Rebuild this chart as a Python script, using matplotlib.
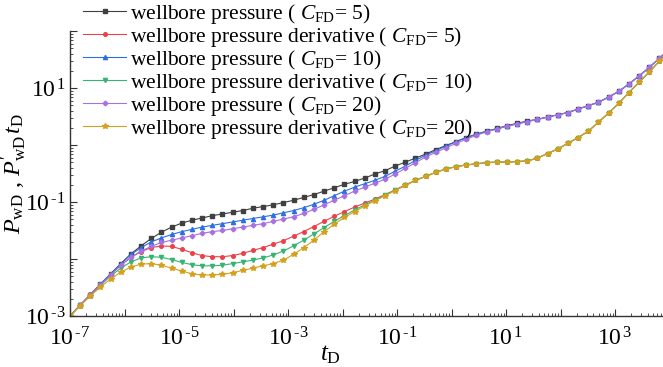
import matplotlib
matplotlib.use("Agg")
import matplotlib.pyplot as plt
import numpy as np
from matplotlib.ticker import LogLocator, FuncFormatter, NullFormatter

plt.rcParams['font.family'] = ['Liberation Serif', 'DejaVu Serif']
plt.rcParams['mathtext.fontset'] = 'custom'
plt.rcParams['mathtext.rm'] = 'Liberation Serif'
plt.rcParams['mathtext.it'] = 'Liberation Serif:italic'
plt.rcParams['mathtext.bf'] = 'Liberation Serif:bold'

# dimensionless time: markers are equally spaced in log, 60 points over 1e-7 .. 1e4
tD = np.logspace(-7, 4, 60)

# log10 of the curves at each marker
p_cfd5 = [-3.00, -2.81, -2.63, -2.44, -2.26, -2.08, -1.91, -1.77, -1.64, -1.53,
          -1.44, -1.37, -1.32, -1.28, -1.24, -1.21, -1.18, -1.15, -1.11, -1.08,
          -1.05, -1.01, -0.97, -0.92, -0.87, -0.81, -0.75, -0.69, -0.64, -0.58,
          -0.51, -0.45, -0.37, -0.30, -0.23, -0.16, -0.08, -0.01, 0.06, 0.13,
          0.19, 0.24, 0.29, 0.34, 0.38, 0.42, 0.45, 0.49, 0.53, 0.57,
          0.63, 0.69, 0.75, 0.84, 0.94, 1.07, 1.21, 1.36, 1.52, 1.68]
dp_cfd5 = [-3.00, -2.81, -2.62, -2.44, -2.27, -2.11, -1.97, -1.87, -1.80, -1.77,
           -1.78, -1.83, -1.89, -1.94, -1.96, -1.96, -1.94, -1.90, -1.85, -1.80,
           -1.74, -1.68, -1.60, -1.52, -1.43, -1.34, -1.25, -1.17, -1.09, -1.02,
           -0.95, -0.87, -0.79, -0.70, -0.62, -0.55, -0.48, -0.42, -0.38, -0.35,
           -0.33, -0.31, -0.30, -0.30, -0.29, -0.28, -0.23, -0.15, -0.07, 0.03,
           0.13, 0.24, 0.40, 0.56, 0.73, 0.92, 1.10, 1.28, 1.47, 1.65]
p_cfd10 = [-3.00, -2.81, -2.63, -2.44, -2.26, -2.09, -1.92, -1.80, -1.70, -1.63,
           -1.57, -1.52, -1.48, -1.44, -1.41, -1.38, -1.35, -1.32, -1.29, -1.26,
           -1.23, -1.19, -1.15, -1.10, -1.04, -0.97, -0.89, -0.81, -0.74, -0.68,
           -0.62, -0.55, -0.46, -0.37, -0.27, -0.18, -0.10, -0.02, 0.06, 0.13,
           0.19, 0.24, 0.28, 0.33, 0.37, 0.41, 0.45, 0.49, 0.53, 0.57,
           0.63, 0.69, 0.75, 0.84, 0.94, 1.07, 1.21, 1.36, 1.52, 1.68]
dp_cfd10 = [-3.00, -2.81, -2.63, -2.46, -2.30, -2.16, -2.05, -1.98, -1.96, -1.97,
            -2.01, -2.06, -2.10, -2.12, -2.12, -2.11, -2.08, -2.05, -2.02, -1.98,
            -1.93, -1.86, -1.77, -1.67, -1.56, -1.45, -1.34, -1.24, -1.14, -1.05,
            -0.97, -0.88, -0.79, -0.71, -0.62, -0.55, -0.48, -0.42, -0.38, -0.35,
            -0.33, -0.31, -0.30, -0.30, -0.29, -0.28, -0.23, -0.15, -0.07, 0.03,
            0.13, 0.24, 0.40, 0.56, 0.73, 0.92, 1.10, 1.28, 1.47, 1.65]
p_cfd20 = [-3.00, -2.81, -2.63, -2.45, -2.28, -2.11, -1.97, -1.86, -1.78, -1.71,
           -1.67, -1.63, -1.59, -1.55, -1.52, -1.50, -1.47, -1.44, -1.41, -1.38,
           -1.34, -1.30, -1.26, -1.20, -1.13, -1.05, -0.97, -0.89, -0.81, -0.74,
           -0.67, -0.60, -0.51, -0.41, -0.31, -0.21, -0.13, -0.05, 0.03, 0.10,
           0.17, 0.23, 0.28, 0.33, 0.37, 0.41, 0.45, 0.49, 0.53, 0.57,
           0.63, 0.69, 0.75, 0.84, 0.94, 1.07, 1.21, 1.36, 1.52, 1.68]
dp_cfd20 = [-3.00, -2.82, -2.65, -2.49, -2.35, -2.23, -2.14, -2.09, -2.08, -2.11,
            -2.16, -2.21, -2.26, -2.28, -2.28, -2.27, -2.24, -2.20, -2.16, -2.12,
            -2.08, -2.02, -1.92, -1.80, -1.67, -1.52, -1.39, -1.27, -1.17, -1.07,
            -0.98, -0.89, -0.80, -0.71, -0.62, -0.55, -0.48, -0.42, -0.38, -0.35,
            -0.33, -0.31, -0.30, -0.30, -0.29, -0.28, -0.23, -0.15, -0.07, 0.03,
            0.13, 0.24, 0.40, 0.56, 0.73, 0.92, 1.10, 1.28, 1.47, 1.65]

labels = [r"wellbore pressure ( $C_{\mathrm{FD}}$= 5)",
          r"wellbore pressure derivative ( $C_{\mathrm{FD}}$= 5)",
          r"wellbore pressure ( $C_{\mathrm{FD}}$= 10)",
          r"wellbore pressure derivative ( $C_{\mathrm{FD}}$= 10)",
          r"wellbore pressure ( $C_{\mathrm{FD}}$= 20)",
          r"wellbore pressure derivative ( $C_{\mathrm{FD}}$= 20)"]
series = [p_cfd5, dp_cfd5, p_cfd10, dp_cfd10, p_cfd20, dp_cfd20]
colors = ['#404040', '#ec4148', '#2c6fe0', '#35b474', '#a870e0', '#d4a11e']
markers = ['s', 'o', '^', 'v', 'D', '*']
msizes = [2.4, 2.6, 3.0, 3.0, 2.4, 3.8]

fig = plt.figure(figsize=(6.63, 3.67), dpi=100)
ax = fig.add_axes([70 / 663, 1 - 316 / 367, 599.5 / 663, 285 / 367])

for vals, lab, col, mk, ms in zip(series, labels, colors, markers, msizes):
    ax.plot(tD, 10 ** np.array(vals), color=col, marker=mk, markersize=ms,
            linewidth=0.8, label=lab)

ax.set_xscale('log')
ax.set_yscale('log')
ax.set_xlim(1e-7, 1e4)
ax.set_ylim(1e-3, 1e2)

# only odd decades carry a label, with a short hyphen in the exponent
def odd_decades(v, pos):
    e = int(round(np.log10(v)))
    if e % 2 == 0:
        return ''
    if e < 0:
        return r'$10^{\,\text{-%d}}$' % (-e)
    return r'$10^{\,%d}$' % e

for axis in (ax.xaxis, ax.yaxis):
    axis.set_major_locator(LogLocator(base=10, numticks=20))
    axis.set_minor_locator(LogLocator(base=10, subs=np.arange(2, 10), numticks=20))
    axis.set_major_formatter(FuncFormatter(odd_decades))
    axis.set_minor_formatter(NullFormatter())

ax.tick_params(which='major', direction='in', length=5, width=0.8, labelsize=17,
               color='#333333')
ax.tick_params(axis='x', which='major', pad=8)
ax.tick_params(axis='y', which='major', pad=3)
ax.tick_params(which='minor', direction='in', length=2.5, width=0.6, color='#333333')
ax.spines['top'].set_visible(False)
ax.spines['right'].set_visible(False)
for s in ('left', 'bottom'):
    ax.spines[s].set_color('#333333')
    ax.spines[s].set_linewidth(1.0)

ax.set_xlabel(r"$t_{\mathrm{D}}$", fontsize=18)
ax.xaxis.set_label_coords(0.434, -0.095)
ax.set_ylabel(r"$P_{\mathrm{wD}}$ , $P^{\prime}_{\mathrm{wD}}\, t_{\mathrm{D}}$", fontsize=17.5)
ax.yaxis.set_label_coords(-0.068, 0.5)

fig.legend(loc='upper left', bbox_to_anchor=(83 / 663, 1 - 2 / 367), frameon=False,
           fontsize=15.5, handlelength=2.0, handletextpad=0.2, labelspacing=-0.05,
           borderpad=0.0, borderaxespad=0.0)

fig.savefig('out.png', dpi=100)
